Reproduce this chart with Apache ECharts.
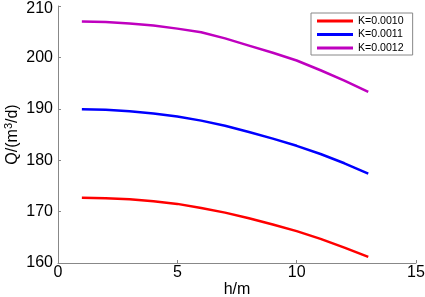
<!DOCTYPE html>
<html>
<head>
<meta charset="utf-8">
<script src="https://cdn.jsdelivr.net/npm/echarts@6/dist/echarts.min.js"></script>
<style>
  html, body { margin: 0; padding: 0; background: #fff; }
  #chart { width: 425px; height: 297px; }
</style>
</head>
<body>
<div id="chart"></div>
<script>
const hData = [1, 2, 3, 4, 5, 6, 7, 8, 9, 10, 11, 12, 13]
const seriesNames = ['K=0.0010', 'K=0.0011', 'K=0.0012']
const q10 = [172.7, 172.6, 172.4, 172.0, 171.5, 170.7, 169.8, 168.7, 167.5, 166.2, 164.7, 163.0, 161.2]
const q11 = [189.9, 189.8, 189.5, 189.1, 188.5, 187.7, 186.7, 185.5, 184.2, 182.8, 181.2, 179.4, 177.4]
const q12 = [207.0, 206.9, 206.6, 206.2, 205.6, 204.9, 203.7, 202.3, 200.9, 199.4, 197.5, 195.5, 193.3]
const colors = ['#ff0000', '#0000ff', '#bf00bf']

const chart = echarts.init(document.getElementById('chart'))

const font = 'Liberation Sans, Arial'
const axisCommon = {
  axisLine: { lineStyle: { color: '#888', width: 1 } },
  axisTick: { inside: true, length: 3, lineStyle: { color: '#888' } },
  splitLine: { show: false },
  axisLabel: { color: '#000', fontSize: 16, fontFamily: font },
  nameTextStyle: { color: '#000', fontSize: 16, fontFamily: font }
}

const pair = (ys) => hData.map((h, i) => [h, ys[i]])

chart.setOption({
  animation: false,
  color: colors,
  grid: { left: 58, right: 9, top: 6, bottom: 34, containLabel: false, outerBoundsMode: 'none' },
  legend: {
    orient: 'vertical',
    left: 311,
    top: 13,
    padding: [2, 9, 1, 6],
    itemWidth: 36,
    itemHeight: 3,
    itemGap: 1.5,
    icon: 'rect',
    borderColor: '#888',
    borderWidth: 1,
    textStyle: { color: '#000', fontSize: 10.6, lineHeight: 12, fontFamily: font },
    data: seriesNames
  },
  xAxis: Object.assign({}, axisCommon, {
    type: 'value',
    min: 0,
    max: 15,
    interval: 5,
    name: 'h/m',
    nameLocation: 'middle',
    nameGap: 19,
    nameMoveOverlap: false,
    axisLabel: Object.assign({}, axisCommon.axisLabel, { margin: 2 })
  }),
  yAxis: Object.assign({}, axisCommon, {
    type: 'value',
    min: 160,
    max: 210,
    interval: 10,
    name: 'Q/(m{sup|3}/d)',
    nameLocation: 'middle',
    nameGap: 35,
    nameMoveOverlap: false,
    nameTextStyle: Object.assign({}, axisCommon.nameTextStyle, {
      rich: { sup: { fontSize: 11, fontFamily: font, color: '#000', padding: [0, 0, 9, 0] } }
    }),
    axisLabel: Object.assign({}, axisCommon.axisLabel, {
      margin: 5,
      formatter: v => v === 210 ? '{top|210}' : String(v),
      rich: { top: { fontSize: 16, fontFamily: font, color: '#000', padding: [6, 0, 0, 0] } }
    })
  }),
  series: [q10, q11, q12].map((ys, i) => ({
    name: seriesNames[i],
    type: 'line',
    data: pair(ys),
    showSymbol: false,
    lineStyle: { width: 2.5, color: colors[i] }
  }))
})
</script>
</body>
</html>
